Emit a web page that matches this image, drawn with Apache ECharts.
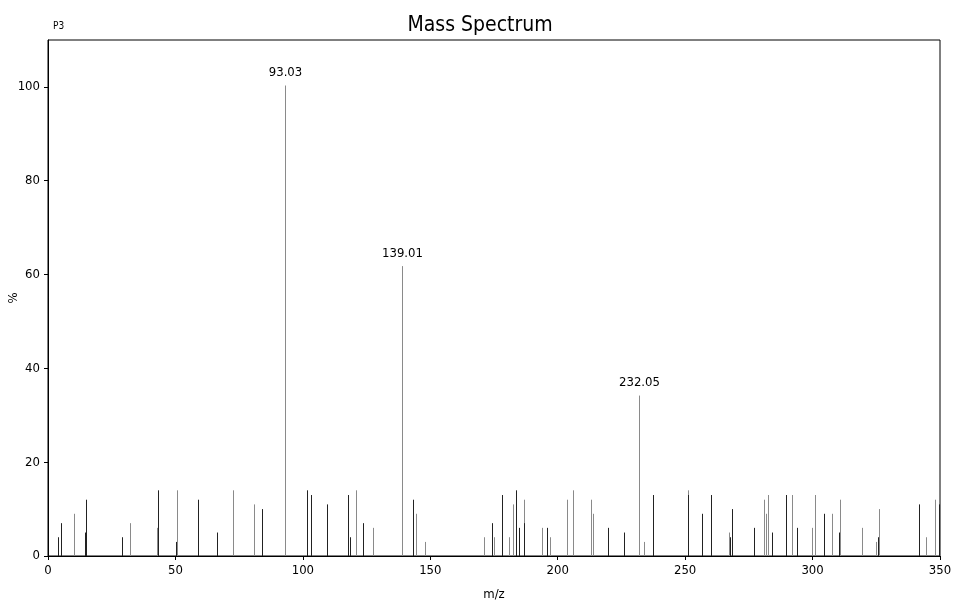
<!DOCTYPE html>
<html>
<head>
<meta charset="utf-8">
<style>
  html, body { margin: 0; padding: 0; background: #fff; }
  #chart { width: 960px; height: 616px; }
</style>
<script src="https://cdn.jsdelivr.net/npm/echarts@6/dist/echarts.min.js"></script>
</head>
<body>
<div id="chart"></div>
<script>
// dark sticks
const darkMz = [3.8, 5.2, 14.6, 14.9, 29.2, 43.3, 50.3, 58.7, 66.4, 84.1, 101.7, 103.0, 109.6, 117.9, 118.5,
  123.7, 143.3, 174.3, 178.0, 183.6, 184.8, 186.7, 195.9, 219.9, 225.9, 237.5, 251.0, 256.7, 260.3, 267.5,
  268.3, 276.9, 284.2, 289.7, 294.0, 304.4, 310.5, 325.7, 341.6, 349.7]
const darkInt = [4, 7, 5, 12, 4, 14, 3, 12, 5, 10, 14, 13, 11, 13, 4,
  7, 12, 7, 13, 14, 6, 7, 6, 6, 5, 13, 13, 9, 13, 4,
  10, 6, 5, 13, 6, 9, 5, 4, 11, 11]

// gray sticks
const grayMz = [10.3, 32.3, 42.6, 50.7, 72.7, 80.7, 93.03, 120.9, 127.5, 139.01, 144.2, 147.9, 171.1, 174.9,
  180.8, 182.6, 186.9, 193.7, 197.0, 203.5, 206.1, 213.1, 213.8, 232.05, 233.7, 251.2, 267.3, 281.1, 281.7,
  282.4, 291.8, 299.8, 301.0, 307.7, 310.9, 319.4, 324.8, 326.1, 344.6, 348.2]
const grayInt = [9, 7, 6, 14, 14, 11, 100.3, 14, 6, 61.8, 9, 3, 4, 4,
  4, 11, 12, 6, 4, 12, 14, 12, 9, 34.2, 3, 14, 5, 12, 9,
  13, 13, 6, 13, 9, 12, 6, 3, 10, 4, 12]

const labelledMz = [93.03, 139.01, 232.05]
const xTicks = [0, 50, 100, 150, 200, 250, 300, 350]
const yTicks = [0, 20, 40, 60, 80, 100]

const FONT = '"Liberation Sans Narrow", "DejaVu Sans Condensed", sans-serif'

function stickSeries(mz, ints, color) {
  return {
    type: 'custom',
    data: mz.map((m, i) => [m, ints[i]]),
    renderItem(params, api) {
      const x = api.value(0)
      const y = api.value(1)
      const p0 = api.coord([x, 0])
      const p1 = api.coord([x, y])
      const px = Math.round(p0[0]) + 0.5
      const children = [{
        type: 'line',
        shape: { x1: px, y1: p0[1], x2: px, y2: p1[1] },
        style: { stroke: color, lineWidth: 1 }
      }]
      if (labelledMz.indexOf(x) >= 0) {
        children.push({
          type: 'text',
          style: {
            text: x.toFixed(2),
            x: px,
            y: p1[1] - 6,
            align: 'center',
            verticalAlign: 'bottom',
            fill: '#000',
            font: '13px ' + FONT
          }
        })
      }
      return { type: 'group', children }
    }
  }
}

const chart = echarts.init(document.getElementById('chart'))
chart.setOption({
  animation: false,
  backgroundColor: '#fff',
  textStyle: { fontFamily: FONT },
  title: [{
    text: 'Mass Spectrum',
    left: 'center',
    top: 10,
    textStyle: { fontSize: 21, fontWeight: 'normal', color: '#000', fontFamily: FONT }
  }, {
    text: 'P3',
    left: 48,
    top: 16,
    textStyle: { fontSize: 10, fontWeight: 'normal', color: '#000', fontFamily: FONT }
  }],
  grid: {
    left: 48,
    right: 20,
    top: 40,
    bottom: 60,
    outerBoundsMode: 'none',
    show: true,
    borderColor: '#000',
    borderWidth: 1
  },
  xAxis: {
    type: 'value',
    min: 0,
    max: 350,
    interval: 50,
    name: 'm/z',
    nameLocation: 'middle',
    nameGap: 32,
    nameMoveOverlap: false,
    nameTextStyle: { fontSize: 13, color: '#000', fontFamily: FONT },
    axisLine: { lineStyle: { color: '#000' } },
    axisTick: { length: 4, lineStyle: { color: '#000' }, customValues: xTicks },
    axisLabel: { fontSize: 13, color: '#000', margin: 8, fontFamily: FONT, customValues: xTicks },
    splitLine: { show: false }
  },
  yAxis: {
    type: 'value',
    min: 0,
    max: 110,
    interval: 20,
    name: '%',
    nameLocation: 'middle',
    nameGap: 28,
    nameMoveOverlap: false,
    nameRotate: 90,
    nameTextStyle: { fontSize: 13, color: '#000', fontFamily: FONT },
    axisLine: { show: true, lineStyle: { color: '#000' } },
    axisTick: { show: true, length: 4, lineStyle: { color: '#000' }, customValues: yTicks },
    axisLabel: { fontSize: 13, color: '#000', margin: 8, fontFamily: FONT, customValues: yTicks },
    splitLine: { show: false }
  },
  series: [
    stickSeries(grayMz, grayInt, '#8a8a8a'),
    stickSeries(darkMz, darkInt, '#222')
  ]
})
</script>
</body>
</html>
